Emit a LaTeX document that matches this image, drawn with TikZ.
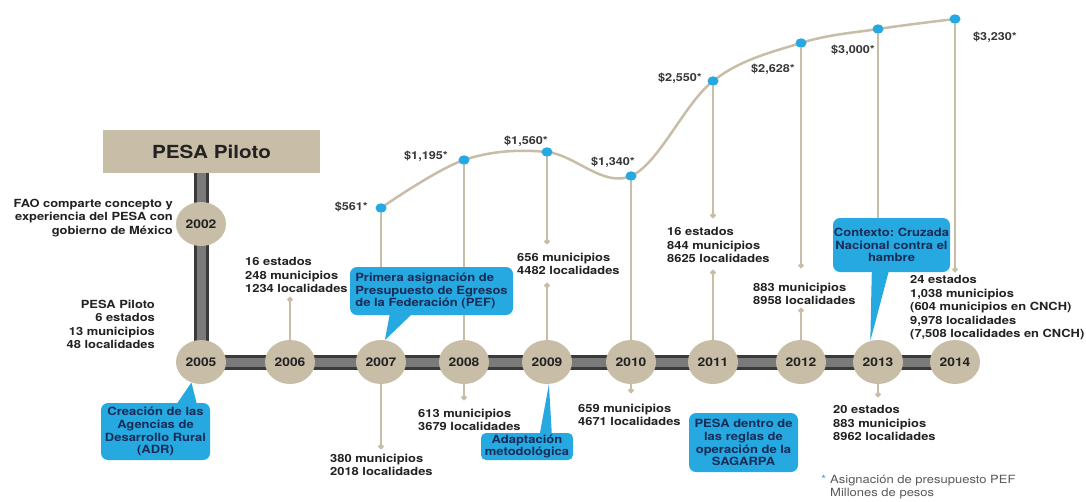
\documentclass[tikz,border=0pt]{standalone}
\usepackage{fontspec}
\setmainfont{TeX Gyre Heros}[FakeStretch=1.15]
\usetikzlibrary{shapes.geometric,backgrounds,arrows.meta}
\definecolor{arena}{RGB}{200,189,167}
\definecolor{azul}{RGB}{38,169,225}
\definecolor{marino}{RGB}{24,44,88}
\definecolor{carbon}{RGB}{58,58,58}
\definecolor{plomo}{RGB}{122,122,122}
\definecolor{tinta}{RGB}{34,34,34}
\frenchspacing

\begin{document}
\begin{tikzpicture}[x=1pt, y=-1pt,
  anio/.style={ellipse, fill=arena, minimum width=50pt, minimum height=44pt, inner sep=0pt, text=tinta, font=\fontsize{12}{14}\selectfont\bfseries},
  punto/.style={ellipse, fill=azul, minimum width=11pt, minimum height=9.5pt, inner sep=0pt},
  dato/.style={inner sep=0pt, text=tinta, align=left, font=\fontsize{11.2}{13.5}\selectfont\bfseries},
  precio/.style={inner sep=0pt, text=tinta!90, font=\fontsize{11}{13}\selectfont\bfseries},
  globo/.style={fill=azul, rounded corners=7pt, align=center, inner sep=0pt, text=marino, font=\fontsize{11.3}{12.8}\selectfont\bfseries},
  tallo/.style={draw=arena, line width=2.5pt},
  riel/.style={draw=carbon, line width=3pt, double=plomo, double distance=9pt}]
  \useasboundingbox (0,0) rectangle (1086,501);
  \node (piloto) [fill=arena, minimum width=217pt, minimum height=43pt, text=tinta, font=\fontsize{18}{20}\selectfont\bfseries] at (211.5,151.5) {PESA Piloto};
  \node (c02) [anio] at (201,224) {2002};
  \node (c05) [anio] at (201,362) {2005};
  \node (c06) [anio] at (290,362) {2006};
  \node (c07) [anio] at (381,362) {2007};
  \node (c08) [anio] at (464,362) {2008};
  \node (c09) [anio] at (547,362) {2009};
  \node (c10) [anio] at (631,362) {2010};
  \node (c11) [anio] at (713,362) {2011};
  \node (c12) [anio] at (801,362) {2012};
  \node (c13) [anio] at (878,362) {2013};
  \node (c14) [anio] at (955,362) {2014};
  \node (d07) [punto] at (381,208) {};
  \node (d08) [punto] at (464,160) {};
  \node (d09) [punto] at (547,152) {};
  \node (d10) [punto] at (631,176) {};
  \node (d11) [punto] at (713,81) {};
  \node (d12) [punto] at (801,43) {};
  \node (d13) [punto] at (878,29) {};
  \node (d14) [punto] at (955,19) {};
  \node (v07) [precio, anchor=east] at (368,207) {\$561*};
  \node (v08) [precio, anchor=east] at (448,156) {\$1,195*};
  \node (v09) [precio] at (526,141) {\$1,560*};
  \node (v10) [precio, anchor=east] at (635,162) {\$1,340*};
  \node (v11) [precio, anchor=east] at (702,78) {\$2,550*};
  \node (v12) [precio, anchor=east] at (795,69) {\$2,628*};
  \node (v13) [precio, anchor=east] at (875,50) {\$3,000*};
  \node (v14) [precio, anchor=west] at (973,37) {\$3,230*};
  \node (fao) [dato, align=right, anchor=north east] at (173,198.5) {FAO comparte concepto y\\experiencia del PESA con\\gobierno de México};
  \node (t05) [dato, align=right, anchor=north east] at (155,299.5) {PESA Piloto\\6 estados\\13 municipios\\48 localidades};
  \node (t06) [dato, anchor=north west] at (245,257.5) {16 estados\\248 municipios\\1234 localidades};
  \node (t07) [dato, anchor=north west] at (330,453.5) {380 municipios\\2018 localidades};
  \node (t08) [dato, anchor=north west] at (418,408.5) {613 municipios\\3679 localidades};
  \node (t09) [dato, anchor=north west] at (517,252.5) {656 municipios\\4482 localidades};
  \node (t10) [dato, anchor=north west] at (578,403.5) {659 municipios\\4671 localidades};
  \node (t11) [dato, anchor=north west] at (667,227.5) {16 estados\\844 municipios\\8625 localidades};
  \node (t12) [dato, anchor=north west] at (753,282.5) {883 municipios\\8958 localidades};
  \node (t13) [dato, anchor=north west] at (833,405.5) {20 estados\\883 municipios\\8962 localidades};
  \node (t14) [dato, anchor=north west] at (910,275.5) {24 estados\\1,038 municipios\\(604 municipios en CNCH)\\9,978 localidades\\(7,508 localidades en CNCH)};
  \node (adr) [globo, minimum width=109pt, minimum height=57pt] at (155.5,431.5) {Creación de las\\Agencias de\\Desarrollo Rural\\(ADR)};
  \node (pef) [globo, align=left, minimum width=163pt, minimum height=48pt] at (431.5,291) {Primera asignación de\\Presupuesto de Egresos\\de la Federación (PEF)};
  \node (adap) [globo, rounded corners=5pt, minimum width=92pt, minimum height=27pt] at (527,446.5) {Adaptación\\metodológica};
  \node (sag) [globo, minimum width=109pt, minimum height=59pt] at (743.5,442.5) {PESA dentro de\\las reglas de\\operación de la\\SAGARPA};
  \node (ctx) [globo, minimum width=117pt, minimum height=54pt] at (891.5,245) {Contexto: Cruzada\\Nacional contra el\\hambre};
  \fill[azul] ([xshift=76pt,yshift=-1pt]adr.north west) -- ([xshift=96pt,yshift=-1pt]adr.north west) -- (c05.245) -- cycle;
  \fill[azul] ([xshift=40pt,yshift=1pt]pef.south west) -- ([xshift=62pt,yshift=1pt]pef.south west) -- (c07.80) -- cycle;
  \fill[azul] ([xshift=59pt,yshift=-1pt]adap.north west) -- ([xshift=71pt,yshift=-1pt]adap.north west) -- (c09.275) -- cycle;
  \fill[azul] ([xshift=39pt,yshift=1pt]ctx.south west) -- ([xshift=56pt,yshift=1pt]ctx.south west) -- (c13.110) -- cycle;
  \node (ast) [anchor=north west, inner sep=0pt, text=azul, font=\fontsize{11.3}{13}\selectfont] at (821,475) {*};
  \node (pie) [anchor=north west, inner sep=0pt, align=left, text=black!65, font=\fontsize{11.3}{13}\selectfont] at (830,475.5) {Asignación de presupuesto PEF\\Millones de pesos};
  \coordinate (e06) at (290,297);
  \coordinate (e07) at (381,449);
  \coordinate (e08) at (464,400);
  \coordinate (e09a) at (547,244);
  \coordinate (e09b) at (547,283);
  \coordinate (e10) at (631,393);
  \coordinate (e11a) at (713,218);
  \coordinate (e11b) at (713,270);
  \coordinate (e12a) at (801,268);
  \coordinate (e12b) at (801,308);
  \coordinate (e13) at (878,397);
  \coordinate (e14) at (955,272);
  \begin{pgfonlayer}{background}
    \fill[white] (0,0) rectangle (1086,501);
    \draw[riel] (c02 |- piloto.center) -- (c05.center) -- (c14.center);
    \draw[tallo] plot[smooth, tension=0.6] coordinates {(d07.center) (d08.center) (d09.center) (d10.center) (d11.center) (d12.center) (d13.center) (d14.center)};
    \draw[tallo, -{Circle[length=5pt]}] (c06) -- (e06);
    \draw[tallo] (d07) -- (d07 |- pef.center);
    \draw[tallo, -{Circle[length=5pt]}] (c07) -- (e07);
    \draw[tallo] (d08) -- (c08);
    \draw[tallo, -{Circle[length=5pt]}] (c08) -- (e08);
    \draw[tallo, -{Circle[length=5pt]}] (d09) -- (e09a);
    \draw[tallo, {Circle[length=5pt]}-] (e09b) -- (c09);
    \draw[tallo] (d10) -- (c10);
    \draw[tallo, -{Circle[length=5pt]}] (c10) -- (e10);
    \draw[tallo, -{Circle[length=5pt]}] (d11) -- (e11a);
    \draw[tallo, {Circle[length=5pt]}-] (e11b) -- (c11);
    \draw[tallo, -{Circle[length=5pt]}] (d12) -- (e12a);
    \draw[tallo, {Circle[length=5pt]}-] (e12b) -- (c12);
    \draw[tallo] (d13) -- (d13 |- ctx.center);
    \draw[tallo, -{Circle[length=5pt]}] (c13) -- (e13);
    \draw[tallo, -{Circle[length=5pt]}] (d14) -- (e14);
  \end{pgfonlayer}
\end{tikzpicture}
\end{document}
